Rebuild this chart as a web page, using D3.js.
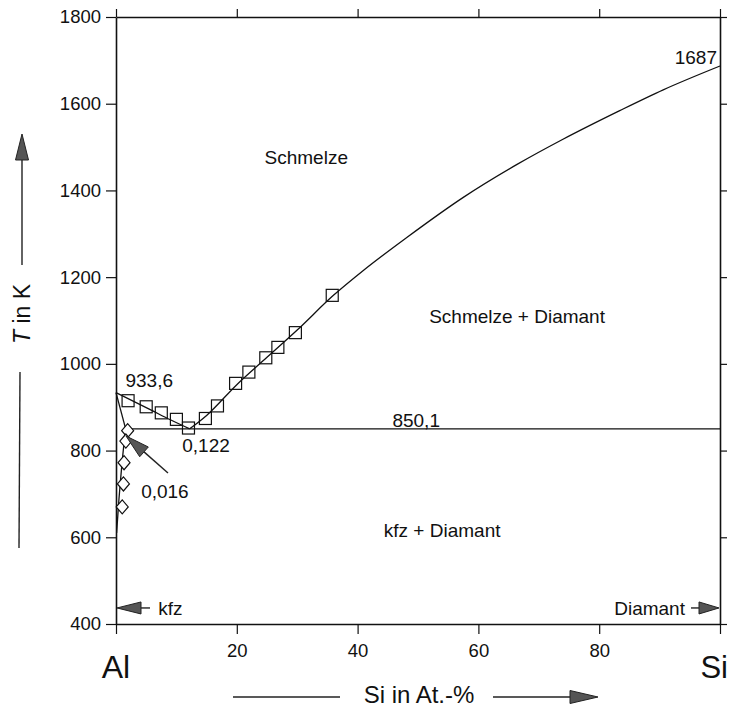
<!DOCTYPE html>
<html>
<head>
<meta charset="utf-8">
<script src="https://cdn.jsdelivr.net/npm/d3@7"></script>
<style>
  body { margin: 0; background: #fff; }
  svg text { font-family: "Liberation Sans", Arial, sans-serif; fill: #111; }
</style>
</head>
<body>
<svg id="chart" width="729" height="714"></svg>
<script>
// Al-Si phase diagram

const xTicks = [0, 20, 40, 60, 80, 100];
const yTicks = [400, 600, 800, 1000, 1200, 1400, 1600, 1800];

// liquidus, Al side (Si at.-%, T in K)
const liqAlX = [0, 3, 6, 9, 12.2];
const liqAlT = [933.6, 913, 892, 871, 850.1];

// liquidus, Si side
const liqSiX = [12.2, 15, 20, 25, 30, 36, 41, 48.2, 57.5, 66.4, 74, 83.4, 90.6, 100];
const liqSiT = [850.1, 881, 952, 1015, 1078, 1158, 1216, 1292, 1384, 1460, 1518, 1584, 1632, 1687];

// solidus and solvus of kfz (Al)
const solX = [0, 1.6];
const solT = [933.6, 850.1];
const solvX = [1.6, 1.2, 0.8, 0.5, 0.3, 0.1];
const solvT = [850.1, 800, 740, 690, 650, 610];

// eutectic
const eutX = [1.6, 100];
const eutT = [850.1, 850.1];

// measured points
const sqX = [2, 5, 7.5, 10, 12, 14.8, 16.8, 19.8, 22, 24.8, 26.8, 29.7, 35.8];
const sqT = [915, 901, 887, 872, 852, 874, 903, 955, 981, 1014, 1038, 1072, 1158];
const diaX = [1.6, 1.3, 1.0, 0.9, 0.7];
const diaT = [846, 822, 772, 723, 670];

const svg = d3.select('#chart');
const x = d3.scaleLinear().domain([0, 100]).range([116, 720]);
const y = d3.scaleLinear().domain([400, 1800]).range([624, 17]);

const zip = (a, b) => a.map((v, i) => [v, b[i]]);

// axes on all four sides, ticks outward
const gB = svg.append('g').attr('transform', `translate(0,${y(400)})`)
  .call(d3.axisBottom(x).tickValues(xTicks).tickSize(10).tickSizeOuter(0).tickPadding(10)
    .tickFormat(d => (d === 0 || d === 100) ? '' : d));
const gL = svg.append('g').attr('transform', `translate(${x(0)},0)`)
  .call(d3.axisLeft(y).tickValues(yTicks).tickSize(10).tickSizeOuter(0).tickPadding(5)
    .tickFormat(d3.format('d')));
const gT = svg.append('g').attr('transform', `translate(0,${y(1800)})`)
  .call(d3.axisTop(x).tickValues(xTicks).tickSize(8).tickSizeOuter(0).tickFormat(''));
const gR = svg.append('g').attr('transform', `translate(${x(100)},0)`)
  .call(d3.axisRight(y).tickValues(yTicks).tickSize(7).tickSizeOuter(0).tickFormat(''));

[gB, gL, gT, gR].forEach(g => {
  g.select('.domain').attr('stroke', '#111').attr('stroke-width', 1.6);
  g.selectAll('.tick line').attr('stroke', '#111').attr('stroke-width', 1.2);
  g.selectAll('.tick text').attr('font-size', 18.5).attr('fill', '#111')
    .style('font-family', '"Liberation Sans", Arial, sans-serif');
});

// curves
const line = d3.line().x(d => x(d[0])).y(d => y(d[1]));
const smooth = d3.line().x(d => x(d[0])).y(d => y(d[1])).curve(d3.curveMonotoneX);
const smoothY = d3.line().x(d => x(d[0])).y(d => y(d[1])).curve(d3.curveMonotoneY);

const curves = [
  [zip(liqAlX, liqAlT), smooth],
  [zip(liqSiX, liqSiT), smooth],
  [zip(solX, solT), line],
  [zip(solvX, solvT), smoothY],
  [zip(eutX, eutT), line]
];
curves.forEach(([pts, gen]) => {
  svg.append('path').attr('d', gen(pts))
    .attr('fill', 'none').attr('stroke', '#111').attr('stroke-width', 1.3);
});

// squares
const sq = 12;
svg.append('g').selectAll('rect')
  .data(zip(sqX, sqT))
  .join('rect')
  .attr('x', d => x(d[0]) - sq / 2)
  .attr('y', d => y(d[1]) - sq / 2)
  .attr('width', sq).attr('height', sq)
  .attr('fill', 'none').attr('stroke', '#111').attr('stroke-width', 1.2);

// diamonds
svg.append('g').selectAll('path')
  .data(zip(diaX, diaT))
  .join('path')
  .attr('d', d => {
    const cx = x(d[0]) + 2, cy = y(d[1]);
    return `M${cx - 6},${cy} L${cx},${cy - 7} L${cx + 6},${cy} L${cx},${cy + 7} Z`;
  })
  .attr('fill', '#fff').attr('stroke', '#111').attr('stroke-width', 1.2);

// arrow helper: line from (x1,y1) to tip (x2,y2)
function arrow(x1, y1, x2, y2, head = 24, half = 6.5) {
  const a = Math.atan2(y2 - y1, x2 - x1);
  const bx = x2 - head * Math.cos(a), by = y2 - head * Math.sin(a);
  svg.append('line')
    .attr('x1', x1).attr('y1', y1).attr('x2', bx).attr('y2', by)
    .attr('stroke', '#222').attr('stroke-width', 1.4);
  const px = -Math.sin(a) * half, py = Math.cos(a) * half;
  svg.append('path')
    .attr('d', `M${x2},${y2} L${bx + px},${by + py} L${bx - px},${by - py} Z`)
    .attr('fill', '#555').attr('stroke', '#222').attr('stroke-width', 1);
}

// annotations
const labels = [
  { t: 'Schmelze', x: 31.5, T: 1477, a: 'middle' },
  { t: 'Schmelze + Diamant', x: 66.4, T: 1109, a: 'middle' },
  { t: 'kfz + Diamant', x: 54, T: 615, a: 'middle' },
  { t: '933,6', x: 5.5, T: 962, a: 'middle' },
  { t: '0,122', x: 14.9, T: 811, a: 'middle' },
  { t: '0,016', x: 8.1, T: 707, a: 'middle' },
  { t: '850,1', x: 49.7, T: 869, a: 'middle' },
  { t: '1687', x: 99.5, T: 1708, a: 'end' },
  { t: 'kfz', x: 7, T: 437, a: 'start' },
  { t: 'Diamant', x: 94.2, T: 437, a: 'end' }
];
svg.append('g').selectAll('text')
  .data(labels)
  .join('text')
  .attr('x', d => x(d.x))
  .attr('y', d => y(d.T))
  .attr('dy', '0.35em')
  .attr('text-anchor', d => d.a)
  .attr('font-size', 19)
  .text(d => d.t);

arrow(168, 473, 126, 436, 24, 6.5);
arrow(150, y(437), x(0) + 1, y(437), 24, 6);
arrow(x(94.2) + 6, y(437), x(100) - 1, y(437), 20, 6);

// element labels at the ends of the x axis
svg.append('text').attr('x', x(0)).attr('y', 678).attr('text-anchor', 'middle')
  .attr('font-size', 32).text('Al');
svg.append('text').attr('x', 728).attr('y', 678).attr('text-anchor', 'end')
  .attr('font-size', 31).text('Si');

// x title with arrow
svg.append('text').attr('x', 419).attr('y', 695).attr('dy', '0.35em')
  .attr('text-anchor', 'middle').attr('font-size', 24).text('Si in At.-%');
svg.append('line').attr('x1', 233).attr('y1', 697).attr('x2', 340).attr('y2', 697)
  .attr('stroke', '#222').attr('stroke-width', 1.4);
arrow(493, 697, 598, 697, 28, 6.5);

// y title with arrow
const yt = svg.append('text').attr('transform', 'translate(22,314) rotate(-90)')
  .attr('dy', '0.35em').attr('text-anchor', 'middle').attr('font-size', 23);
yt.append('tspan').attr('font-style', 'italic').text('T');
yt.append('tspan').text(' in K');
svg.append('line').attr('x1', 20).attr('y1', 372).attr('x2', 19).attr('y2', 548)
  .attr('stroke', '#222').attr('stroke-width', 1.4);
arrow(22, 265, 22, 134, 26, 6.5);
</script>
</body>
</html>
